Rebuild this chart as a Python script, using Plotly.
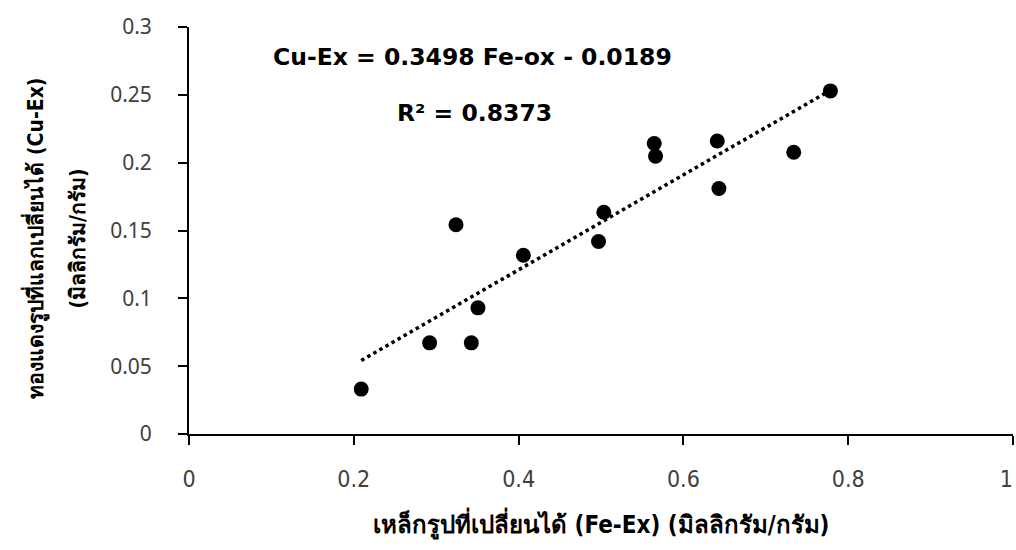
import plotly.graph_objects as go
import numpy as np

fe_ex = [0.209, 0.292, 0.3426, 0.3507, 0.324, 0.4058, 0.497, 0.5034,
         0.5646, 0.5662, 0.6411, 0.6431, 0.7339, 0.7784]
cu_ex = [0.0331, 0.0672, 0.0672, 0.0930, 0.1542, 0.1318, 0.1419, 0.1635,
         0.2141, 0.2048, 0.2160, 0.1810, 0.2077, 0.2529]
slope = 0.3498
intercept = -0.0189
x_ticks = [0, 0.2, 0.4, 0.6, 0.8, 1]
x_tick_labels = ["0", "0.2", "0.4", "0.6", "0.8", "1&nbsp;&nbsp;"]
y_ticks = [0, 0.05, 0.1, 0.15, 0.2, 0.25, 0.3]
y_tick_labels = ["0", "0.05", "0.1", "0.15", "0.2", "0.25", "0.3"]
equation_text = "Cu-Ex = 0.3498 Fe-ox - 0.0189"
r2_text = "R² = 0.8373"
x_title = "เหล็กรูปที่เปลี่ยนได้ (Fe-Ex) (มิลลิกรัม/กรัม)"
y_title_1 = "ทองแดงรูปที่แลกเปลี่ยนได้ (Cu-Ex)"
y_title_2 = "(มิลลิกรัม/กรัม)"

x_line = np.linspace(min(fe_ex), max(fe_ex), 50)
y_line = slope * x_line + intercept

fig = go.Figure()
fig.add_trace(go.Scatter(x=x_line, y=y_line, mode="lines",
                         line=dict(color="black", width=3.5, dash="3.5px,3.5px"),
                         showlegend=False, hoverinfo="skip"))
fig.add_trace(go.Scatter(x=fe_ex, y=cu_ex, mode="markers",
                         marker=dict(color="black", size=15),
                         showlegend=False))

fig.add_annotation(x=0.3436, y=0.2777, xref="x", yref="y",
                   text="<b>" + equation_text + "</b>", showarrow=False,
                   font=dict(family="DejaVu Sans", size=23.5, color="black"))
fig.add_annotation(x=0.347, y=0.2364, xref="x", yref="y",
                   text="<b>" + r2_text + "</b>", showarrow=False,
                   font=dict(family="DejaVu Sans", size=23.5, color="black"))

fig.add_annotation(x=0.5, y=-0.221, xref="paper", yref="paper",
                   text="<b>" + x_title + "</b>", showarrow=False,
                   xanchor="center", yanchor="middle",
                   font=dict(family="DejaVu Sans Condensed", size=24, color="black"))
fig.add_annotation(x=-0.1864, y=0.481, xref="paper", yref="paper",
                   text="<b>" + y_title_1 + "</b>", showarrow=False, textangle=-90,
                   xanchor="center", yanchor="middle",
                   font=dict(family="DejaVu Sans Condensed", size=21, color="black"))
fig.add_annotation(x=-0.1343, y=0.481, xref="paper", yref="paper",
                   text="<b>" + y_title_2 + "</b>", showarrow=False, textangle=-90,
                   xanchor="center", yanchor="middle",
                   font=dict(family="DejaVu Sans Condensed", size=21, color="black"))

fig.update_layout(
    width=1016, height=550,
    margin=dict(l=189, r=3, t=27, b=116, autoexpand=False),
    paper_bgcolor="white", plot_bgcolor="white",
    xaxis=dict(range=[0, 1], tickvals=x_ticks, ticktext=x_tick_labels,
               showline=True, linecolor="black", linewidth=2,
               ticks="outside", ticklen=9, tickwidth=2, tickcolor="black",
               showgrid=False, zeroline=False, automargin=False,
               tickfont=dict(family="DejaVu Sans Condensed", size=23, color="#404040"),
               ticklabelstandoff=14, ticklabeloverflow="allow"),
    yaxis=dict(range=[0, 0.3], tickvals=y_ticks, ticktext=y_tick_labels,
               showline=True, linecolor="black", linewidth=2,
               ticks="outside", ticklen=9, tickwidth=2, tickcolor="black",
               showgrid=False, zeroline=False, automargin=False,
               tickfont=dict(family="Noto Sans", size=21, color="#404040"),
               ticklabelstandoff=22),
)

fig.write_html("out.html", config={"displayModeBar": False},
               post_script="document.body.style.margin='0px';")
